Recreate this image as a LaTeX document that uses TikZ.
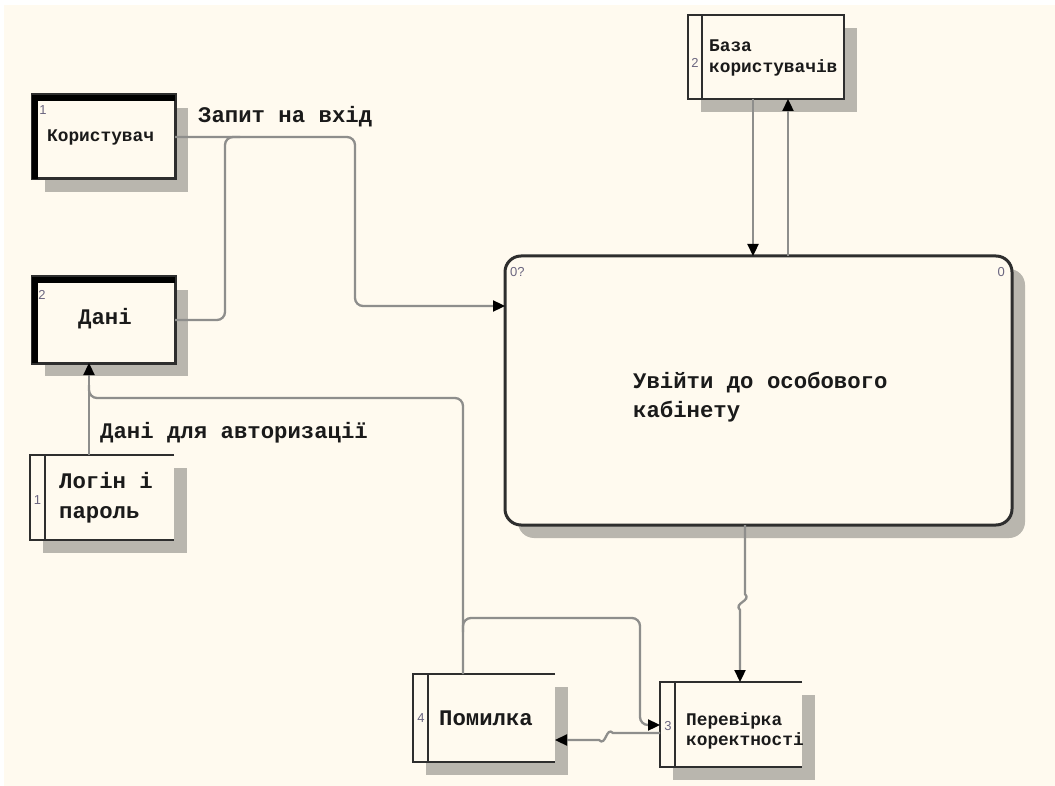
\documentclass[tikz,border=0pt]{standalone}
\usepackage{fontspec}
\usetikzlibrary{arrows.meta,shadows}
\newfontfamily\cmono{Liberation Mono}
\newfontfamily\tagfont{Liberation Sans}

\definecolor{paper}{HTML}{FFFAEF}
\definecolor{shadowc}{HTML}{B9B6AE}
\definecolor{edgec}{HTML}{2E2E2E}
\definecolor{linec}{HTML}{8E8E8C}
\definecolor{ink}{HTML}{1A1A1A}
\definecolor{tagc}{HTML}{6B6680}

\begin{document}
\begin{tikzpicture}[x=1pt,y=-1pt,
  boxshadow/.style={drop shadow={shadow xshift=13pt,shadow yshift=-13pt,fill=shadowc,opacity=1}},
  entity/.style={rectangle,draw=edgec,line width=3pt,fill=paper,inner sep=0pt,outer sep=0pt,boxshadow},
  store/.style={rectangle,fill=paper,inner sep=0pt,outer sep=0pt,boxshadow},
  process/.style={rectangle,rounded corners=16pt,draw=edgec,line width=3pt,fill=paper,inner sep=0pt,outer sep=0pt,boxshadow},
  storeedge/.style={draw=edgec,line width=2.5pt},
  bigtext/.style={font=\cmono\bfseries\fontsize{22.3}{30}\selectfont,text=ink,inner sep=0pt},
  smalltext/.style={font=\cmono\bfseries\fontsize{17.8}{21}\selectfont,text=ink,inner sep=0pt},
  numtag/.style={font=\tagfont\fontsize{13}{14}\selectfont,text=tagc,inner sep=0pt},
  conn/.style={draw=linec,line width=2.3pt,rounded corners=8pt},
  toarrow/.style={-{Triangle[length=12pt,width=11pt,color=black]}}
]
\useasboundingbox (0,0) rectangle (1055,786);
\fill[white] (0,0) rectangle (1055,786);
\fill[paper] (4,5) rectangle (1055,786);

% boxes
\node[entity,minimum width=143pt,minimum height=84pt] (user) at (103.5,137) {};
\node[entity,minimum width=143pt,minimum height=86pt] (data) at (103.5,320) {};
\node[store,minimum width=144pt,minimum height=85pt] (login) at (102,497.5) {};
\node[store,minimum width=156pt,minimum height=84pt] (base) at (766,57) {};
\node[process,minimum width=507pt,minimum height=269pt] (main) at (758.5,390.5) {};
\node[store,minimum width=142pt,minimum height=88pt] (err) at (484,718) {};
\node[store,minimum width=142pt,minimum height=85pt] (check) at (731,724.5) {};

% heavy left/top edges of the external entities
\foreach \n in {user,data}
  \draw[line width=6pt,black] ([xshift=3pt]\n.south west) -- ([xshift=3pt,yshift=-3pt]\n.north west) -- ([yshift=-3pt]\n.north east);

% data stores: open on the right, with a numbered band on the left
\foreach \n in {login,err,check} {
  \draw[storeedge] (\n.north east) -- (\n.north west) -- (\n.south west) -- (\n.south east);
  \draw[storeedge] ([xshift=15pt]\n.north west) -- ([xshift=15pt]\n.south west);
}
\draw[storeedge] (base.north west) rectangle (base.south east);
\draw[storeedge] ([xshift=14pt]base.north west) -- ([xshift=14pt]base.south west);

% numbers
\node[numtag] (userTag) at (43,110) {1};
\node[numtag] (dataTag) at (42,295) {2};
\node[numtag] (loginTag) at (37.5,500) {1};
\node[numtag] (baseTag) at (695,63) {2};
\node[numtag] (errTag) at (421,718) {4};
\node[numtag] (checkTag) at (668,726) {3};
\node[numtag,anchor=west] (mainTagL) at (510,272) {0?};
\node[numtag,anchor=east] (mainTagR) at (1005,272) {0};

% box texts
\node[smalltext,anchor=base west] (userText) at (47,142) {Користувач};
\node[bigtext,anchor=base west] (dataText) at (78,325) {Дані};
\node[bigtext,anchor=base west] (loginText1) at (59,488) {Логін і};
\node[bigtext,anchor=base west] (loginText2) at (59,518) {пароль};
\node[smalltext,anchor=base west] (baseText1) at (709,52) {База};
\node[smalltext,anchor=base west] (baseText2) at (709,73) {користувачів};
\node[bigtext,anchor=base west] (mainText1) at (633,388) {Увійти до особового};
\node[bigtext,anchor=base west] (mainText2) at (633,417) {кабінету};
\node[bigtext,anchor=base west] (errText) at (439,725) {Помилка};
\node[smalltext,anchor=base west] (checkText1) at (686,725) {Перевірка};
\node[smalltext,anchor=base west] (checkText2) at (686,745) {коректності};

% connector labels
\node[bigtext,anchor=base west] (reqLabel) at (198,123) {Запит на вхід};
\node[bigtext,anchor=base west] (authLabel) at (100,438) {Дані для авторизації};

% connectors
\draw[conn,toarrow] (user.east) -- (355,137) -- (355,306) -- (main.west |- 0,306);
\draw[conn] (240,137) -- (225,137) -- (225,320) -- (data.east);
\draw[conn,toarrow] (login.north -| 89,0) -- (data.south -| 89,0);
\draw[conn] (err.north -| 463,0) -- (463,398) -- (89,398) -- (89,385);
\draw[conn,toarrow] (463,632) -- (463,618) -- (640,618) -- (640,725) -- (check.west |- 0,725);
\draw[conn,sharp corners,toarrow] (check.west |- 0,733) -- (613,733)
  .. controls (606,726) and (606,747) .. (599,740) -- (err.east |- 0,740);
\draw[conn,sharp corners,toarrow] (main.south -| 745,0) -- (745,594)
  .. controls (752,601) and (733,603) .. (740,610) -- (check.north -| 740,0);
\draw[conn,toarrow] (base.south -| 753,0) -- (main.north -| 753,0);
\draw[conn,toarrow] (main.north -| 788,0) -- (base.south -| 788,0);
\end{tikzpicture}
\end{document}
